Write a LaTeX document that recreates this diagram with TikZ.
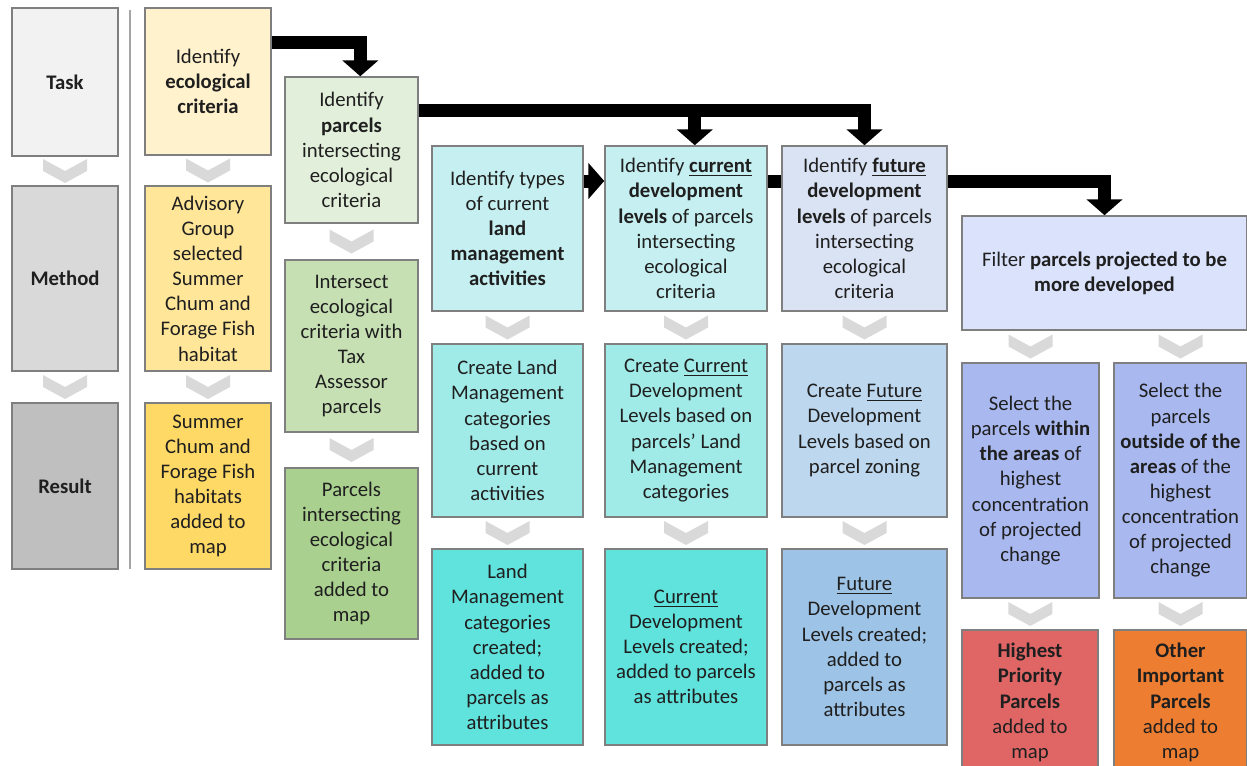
\documentclass[tikz,border=0pt]{standalone}
\usepackage{fontspec}
\setmainfont{Carlito}
\usetikzlibrary{arrows.meta,calc}

\definecolor{boxline}{HTML}{7F7F7F}
\definecolor{chevgray}{HTML}{D9D9D9}
\definecolor{taskfill}{HTML}{F2F2F2}
\definecolor{methodfill}{HTML}{D9D9D9}
\definecolor{resultfill}{HTML}{BFBFBF}
\definecolor{yelA}{HTML}{FFF2CC}
\definecolor{yelB}{HTML}{FFE699}
\definecolor{yelC}{HTML}{FFD966}
\definecolor{grnA}{HTML}{E2EFDA}
\definecolor{grnB}{HTML}{C6E0B4}
\definecolor{grnC}{HTML}{A9D08E}
\definecolor{cyaA}{HTML}{C5EFF0}
\definecolor{cyaB}{HTML}{A0EBE8}
\definecolor{cyaC}{HTML}{60E3DD}
\definecolor{bluA}{HTML}{DAE3F3}
\definecolor{bluB}{HTML}{BDD7EE}
\definecolor{bluC}{HTML}{9DC3E6}
\definecolor{lavA}{HTML}{DAE2FC}
\definecolor{lavB}{HTML}{A9B9F0}
\definecolor{redbox}{HTML}{E06666}
\definecolor{orangebox}{HTML}{ED7D31}

\begin{document}
\begin{tikzpicture}[x=0.02cm,y=-0.02cm,
	box/.style={draw=boxline,line width=0.9pt,align=center,inner sep=0pt,text=black!88,
		font=\fontsize{11.8}{14.3}\selectfont},
	flow/.style={line width=7.4pt,-{Triangle[width=20pt,length=9pt]}},
	bar/.style={line width=7.4pt},
	chevron/.pic={\fill[chevgray] (-22,-12) -- (0,0) -- (22,-12) -- (22,0) -- (0,12) -- (-22,0) -- cycle;}]
	\useasboundingbox (0,0) rectangle (1247,765);

	% left legend
	\node[box,fill=taskfill,minimum width=2.12cm,minimum height=2.96cm] (task) at (65,82) {\textbf{Task}};
	\node[box,fill=methodfill,minimum width=2.12cm,minimum height=3.7cm] (method) at (65,278.5) {\textbf{Method}};
	\node[box,fill=resultfill,minimum width=2.12cm,minimum height=3.32cm] (result) at (65,486) {\textbf{Result}};
	\coordinate (sepT) at (130,10);
	\coordinate (sepB) at (130,569);
	\draw[boxline!70,line width=1pt] (sepT) -- (sepB);

	% ecological criteria
	\node[box,fill=yelA,minimum width=2.52cm,minimum height=2.94cm] (y1) at (208,81.5) {Identify\\ \textbf{ecological}\\ \textbf{criteria}};
	\node[box,fill=yelB,minimum width=2.52cm,minimum height=3.7cm] (y2) at (208,278.5) {Advisory\\ Group\\ selected\\ Summer\\ Chum and\\ Forage Fish\\ habitat};
	\node[box,fill=yelC,minimum width=2.52cm,minimum height=3.32cm] (y3) at (208,486) {Summer\\ Chum and\\ Forage Fish\\ habitats\\ added to\\ map};

	% parcels
	\node[box,fill=grnA,minimum width=2.66cm,minimum height=2.92cm] (g1) at (351.5,150) {Identify\\ \textbf{parcels}\\ intersecting\\ ecological\\ criteria};
	\node[box,fill=grnB,minimum width=2.66cm,minimum height=3.44cm] (g2) at (351.5,346) {Intersect\\ ecological\\ criteria with\\ Tax\\ Assessor\\ parcels};
	\node[box,fill=grnC,minimum width=2.66cm,minimum height=3.42cm] (g3) at (351.5,553.5) {Parcels\\ intersecting\\ ecological\\ criteria\\ added to\\ map};

	% land management
	\node[box,fill=cyaA,minimum width=3.02cm,minimum height=3.3cm] (c3t) at (507.5,228.5) {Identify types\\ of current\\ \textbf{land}\\ \textbf{management}\\ \textbf{activities}};
	\node[box,fill=cyaB,minimum width=3.02cm,minimum height=3.46cm] (c3m) at (507.5,430.5) {Create Land\\ Management\\ categories\\ based on\\ current\\ activities};
	\node[box,fill=cyaC,minimum width=3.02cm,minimum height=3.92cm] (c3b) at (507.5,647) {Land\\ Management\\ categories\\ created;\\ added to\\ parcels as\\ attributes};

	% current development
	\node[box,fill=cyaA,minimum width=3.24cm,minimum height=3.3cm] (c4t) at (686,228.5) {Identify \textbf{\underline{current}}\\ \textbf{development}\\ \textbf{levels} of parcels\\ intersecting\\ ecological\\ criteria};
	\node[box,fill=cyaB,minimum width=3.24cm,minimum height=3.46cm] (c4m) at (686,430.5) {Create \underline{Current}\\ Development\\ Levels based on\\ parcels’ Land\\ Management\\ categories};
	\node[box,fill=cyaC,minimum width=3.24cm,minimum height=3.92cm] (c4b) at (686,647) {\underline{Current}\\ Development\\ Levels created;\\ added to parcels\\ as attributes};

	% future development
	\node[box,fill=bluA,minimum width=3.3cm,minimum height=3.3cm] (c5t) at (864.5,228.5) {Identify \textbf{\underline{future}}\\ \textbf{development}\\ \textbf{levels} of parcels\\ intersecting\\ ecological\\ criteria};
	\node[box,fill=bluB,minimum width=3.3cm,minimum height=3.46cm] (c5m) at (864.5,430.5) {Create \underline{Future}\\ Development\\ Levels based on\\ parcel zoning};
	\node[box,fill=bluC,minimum width=3.3cm,minimum height=3.92cm] (c5b) at (864.5,647) {\underline{Future}\\ Development\\ Levels created;\\ added to\\ parcels as\\ attributes};

	% filtering
	\node[box,fill=lavA,minimum width=5.7cm,minimum height=2.28cm] (c6t) at (1104.5,273) {Filter \textbf{parcels projected to be}\\ \textbf{more developed}};
	\node[box,fill=lavB,minimum width=2.74cm,minimum height=4.7cm] (c6l) at (1030.5,480.5) {Select the\\ parcels \textbf{within}\\ \textbf{the areas} of\\ highest\\ concentration\\ of projected\\ change};
	\node[box,fill=lavB,minimum width=2.66cm,minimum height=4.7cm] (c6r) at (1180.5,480.5) {Select the\\ parcels\\ \textbf{outside of the}\\ \textbf{areas} of the\\ highest\\ concentration\\ of projected\\ change};
	\node[box,fill=redbox,minimum width=2.72cm,minimum height=2.9cm] (red) at (1030,702.5) {\textbf{Highest}\\ \textbf{Priority}\\ \textbf{Parcels}\\ added to\\ map};
	\node[box,fill=orangebox,minimum width=2.66cm,minimum height=2.9cm] (orange) at (1180.5,702.5) {\textbf{Other}\\ \textbf{Important}\\ \textbf{Parcels}\\ added to\\ map};

	% chevrons
	\foreach \a/\b in {task/method,method/result,y1/y2,y2/y3,g1/g2,g2/g3,c3t/c3m,c3m/c3b,c4t/c4m,c4m/c4b,c5t/c5m,c5m/c5b,c6l/red,c6r/orange}
		\pic at ($(\a.south)!0.5!(\b.north)$) {chevron};
	\pic at ($(c6t.south -| c6l.north)!0.5!(c6l.north)$) {chevron};
	\pic at ($(c6t.south -| c6r.north)!0.5!(c6r.north)$) {chevron};

	% black flow arrows
	\coordinate (r1) at (0,42);
	\coordinate (r2) at (0,110);
	\coordinate (r3) at (0,181);
	\draw[flow] (y1.east |- r1) -| ([xshift=5pt]g1.north);
	\draw[flow] (g1.east |- r2) -| ([xshift=5pt]c4t.north);
	\draw[flow] (g1.east |- r2) -| (c5t.north);
	\draw[flow] (c3t.east |- r3) -- (c4t.west |- r3);
	\draw[bar] (c4t.east |- r3) -- (c5t.west |- r3);
	\draw[flow] (c5t.east |- r3) -| (c6t.north);
\end{tikzpicture}
\end{document}
